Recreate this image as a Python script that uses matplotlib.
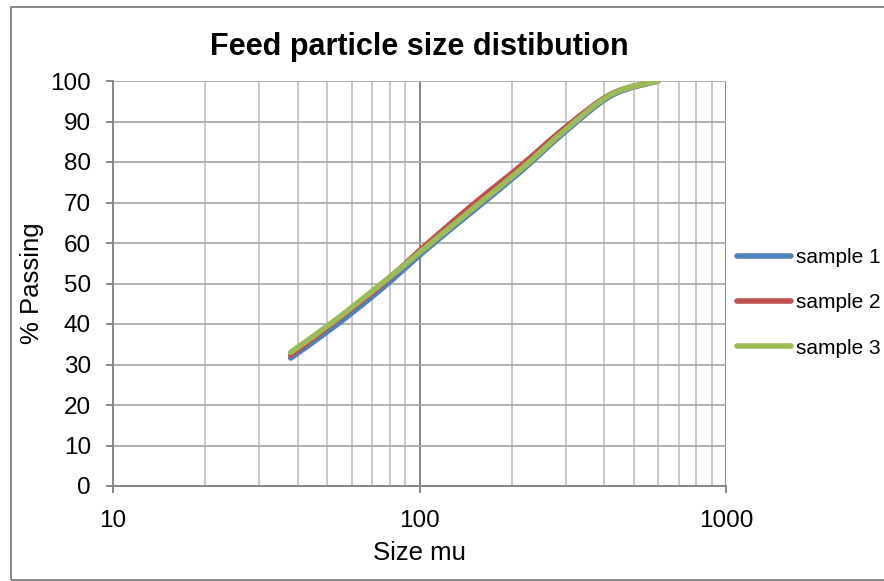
import numpy as np
import matplotlib
matplotlib.use("Agg")
import matplotlib.pyplot as plt
from matplotlib.path import Path
from matplotlib.patches import PathPatch, Rectangle
from matplotlib.lines import Line2D

plt.rcParams["font.family"] = ["Liberation Sans", "DejaVu Sans"]

# sieve sizes (microns) and cumulative % passing for each feed sample
sizes = [38, 53, 75, 106, 150, 212, 300, 425, 600]
sample_1 = [31.6, 39.5, 48.6, 58.6, 68.0, 77.4, 87.6, 96.5, 100.0]
sample_2 = [32.3, 40.6, 49.6, 59.8, 69.6, 78.8, 88.6, 96.9, 100.0]
sample_3 = [33.0, 40.9, 49.9, 59.2, 68.6, 77.9, 88.0, 96.8, 100.0]
labels = ["sample 1", "sample 2", "sample 3"]
colors = ["#4F81BD", "#C0504D", "#9BBB59"]


def smooth_path(x, y):
    """Cubic bezier through the points (like a spreadsheet 'smoothed line'), in log-x space."""
    lx = np.log10(x)
    y = np.asarray(y, dtype=float)
    pts = np.column_stack([lx, y])
    verts = [pts[0]]
    codes = [Path.MOVETO]
    n = len(pts)
    for i in range(n - 1):
        p0 = pts[i - 1] if i > 0 else pts[i]
        p1 = pts[i]
        p2 = pts[i + 1]
        p3 = pts[i + 2] if i + 2 < n else pts[i + 1]
        c1 = p1 + (p2 - p0) / 6.0
        c2 = p2 - (p3 - p1) / 6.0
        verts += [c1, c2, p2]
        codes += [Path.CURVE4] * 3
    verts = np.array(verts)
    verts[:, 0] = 10 ** verts[:, 0]
    return Path(verts, codes)


fig = plt.figure(figsize=(8.84, 5.81), dpi=100)
ax = fig.add_axes([113 / 884, 1 - 486 / 581, (726 - 113) / 884, (486 - 81) / 581])

ax.set_xscale("log")
ax.set_xlim(10, 1000)
ax.set_ylim(0, 100)
ax.set_yticks(np.arange(0, 101, 10))
ax.set_xticks([10, 100, 1000])
ax.set_xticklabels(["10", "100", "1000"])
ax.xaxis.set_minor_formatter(plt.NullFormatter())

# gridlines
ax.grid(True, which="major", axis="y", color="#a6a6a6", lw=1.2)
ax.grid(True, which="major", axis="x", color="#878787", lw=1.4)
ax.grid(True, which="minor", axis="x", color="#c0c0c0", lw=1.2)
ax.set_axisbelow(True)

for side in ["top", "right"]:
    ax.spines[side].set_visible(False)
for side in ["left", "bottom"]:
    ax.spines[side].set_color("#878787")
    ax.spines[side].set_linewidth(1.4)
ax.tick_params(axis="both", which="major", direction="out", length=5, width=1.4,
               color="#878787", labelsize=17.5, pad=11)
ax.tick_params(axis="x", which="minor", length=0)
ax.tick_params(axis="x", which="major", pad=12)

for lab, vals, c in zip(labels, [sample_1, sample_2, sample_3], colors):
    ax.add_patch(PathPatch(smooth_path(sizes, vals), facecolor="none", edgecolor=c,
                           lw=4.0, capstyle="round", joinstyle="round", zorder=3))

ax.set_title("Feed particle size distibution", fontsize=22, fontweight="bold", pad=19)
ax.set_xlabel("Size mu", fontsize=18.5, labelpad=7)
ax.set_ylabel("% Passing", fontsize=18.5, labelpad=4.5)

handles = [Line2D([], [], color=c, lw=4.0, solid_capstyle="round", label=l)
           for l, c in zip(labels, colors)]
fig.legend(handles=handles, loc="center left", bbox_to_anchor=(737 / 884, 1 - 303 / 581),
           frameon=False, fontsize=15, handlelength=2.6, handletextpad=0.25,
           labelspacing=1.25, borderpad=0, borderaxespad=0)

# chart area border
fig.patches.append(Rectangle((11 / 884, 1 / 581), 1.0, 1 - 8 / 581, transform=fig.transFigure,
                             fill=False, edgecolor="#878787", lw=1.4))

fig.savefig("out.png", dpi=100)
